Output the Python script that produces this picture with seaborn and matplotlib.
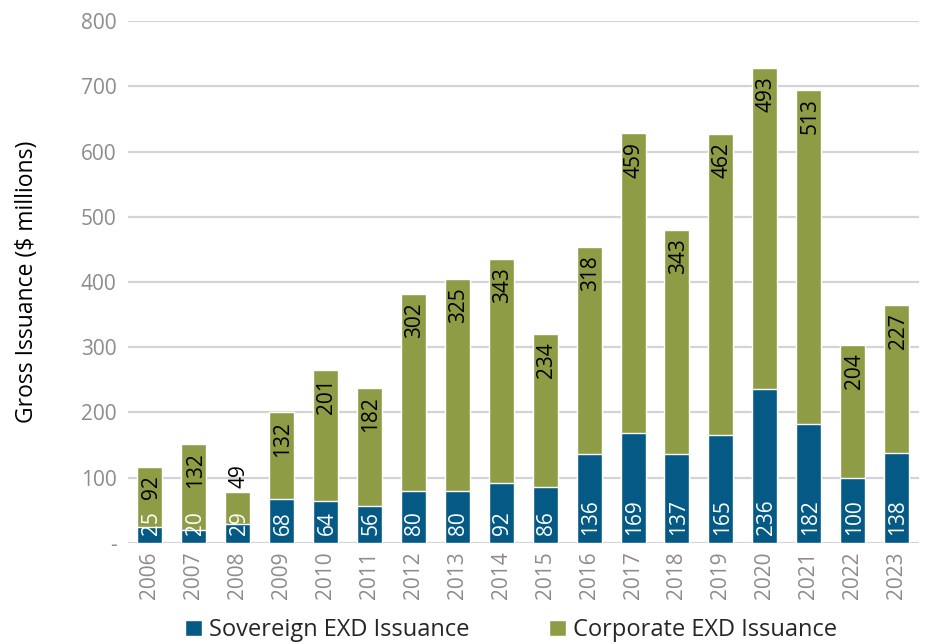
import pandas as pd
import matplotlib
matplotlib.use("Agg")
import matplotlib.pyplot as plt
import matplotlib.transforms as mtransforms
from matplotlib.patches import Patch
import seaborn as sns

years = [str(y) for y in range(2006, 2024)]
sovereign = [25, 20, 29, 68, 64, 56, 80, 80, 92, 86, 136, 169, 137, 165, 236, 182, 100, 138]
corporate = [92, 132, 49, 132, 201, 182, 302, 325, 343, 234, 318, 459, 343, 462, 493, 513, 204, 227]
y_ticks = list(range(0, 801, 100))
y_tick_labels = ["-"] + [str(v) for v in y_ticks[1:]]

BLUE = "#045a84"
GREEN = "#8e9c45"
GREY = "#8c8c8c"

sns.set_style("white")
plt.rcParams["font.family"] = ["Open Sans", "DejaVu Sans"]

df = pd.DataFrame({"Year": years, "Sovereign": sovereign, "Corporate": corporate})
df["Total"] = df["Sovereign"] + df["Corporate"]

fig = plt.figure(figsize=(9.26, 6.44), dpi=100)
ax = fig.add_axes([0.138, 0.157, 0.854, 0.81])

# corporate drawn as the full stack, sovereign on top of it
sns.barplot(data=df, x="Year", y="Total", color=GREEN, saturation=1,
            width=0.57, errorbar=None, ax=ax)
sns.barplot(data=df, x="Year", y="Sovereign", color=BLUE, saturation=1,
            width=0.57, errorbar=None, ax=ax)

ax.set_ylim(0, 800)
ax.set_xlim(-0.5, len(years) - 0.5)
ax.set_yticks(y_ticks)
ax.set_yticklabels(y_tick_labels)
ax.tick_params(axis="both", length=0, labelsize=15, labelcolor=GREY, pad=8)
ax.tick_params(axis="x", rotation=90, pad=6)
ax.yaxis.grid(True, color="#d4d4d4", linewidth=1.6)
ax.set_axisbelow(True)
sns.despine(ax=ax, left=True, bottom=True)
ax.set_xlabel("")
ax.set_ylabel("Gross Issuance ($ millions)", fontsize=16.5, color="black", labelpad=30)

down = mtransforms.offset_copy(ax.transData, fig=fig, x=1, y=-6, units="points")
up = mtransforms.offset_copy(ax.transData, fig=fig, x=1, y=3, units="points")
base = mtransforms.offset_copy(ax.transData, fig=fig, x=1, y=5.5, units="points")
for i, (s, c) in enumerate(zip(sovereign, corporate)):
    ax.text(i, 0, str(s), rotation=90, ha="center", va="bottom", fontsize=15,
            color="white", transform=base)
    if c < 60:
        ax.text(i, s + c, str(c), rotation=90, ha="center", va="bottom",
                fontsize=15, color="black", transform=up)
    else:
        ax.text(i, s + c, str(c), rotation=90, ha="center", va="top",
                fontsize=15, color="black", transform=down)

handles = [Patch(facecolor=BLUE, label="Sovereign EXD Issuance"),
           Patch(facecolor=GREEN, label="Corporate EXD Issuance")]
fig.legend(handles=handles, loc="lower center", bbox_to_anchor=(0.552, -0.03),
           ncol=2, frameon=False, fontsize=17, handlelength=0.7, handleheight=0.7,
           handletextpad=0.3, columnspacing=3.4)

fig.savefig("out.png", dpi=100)
